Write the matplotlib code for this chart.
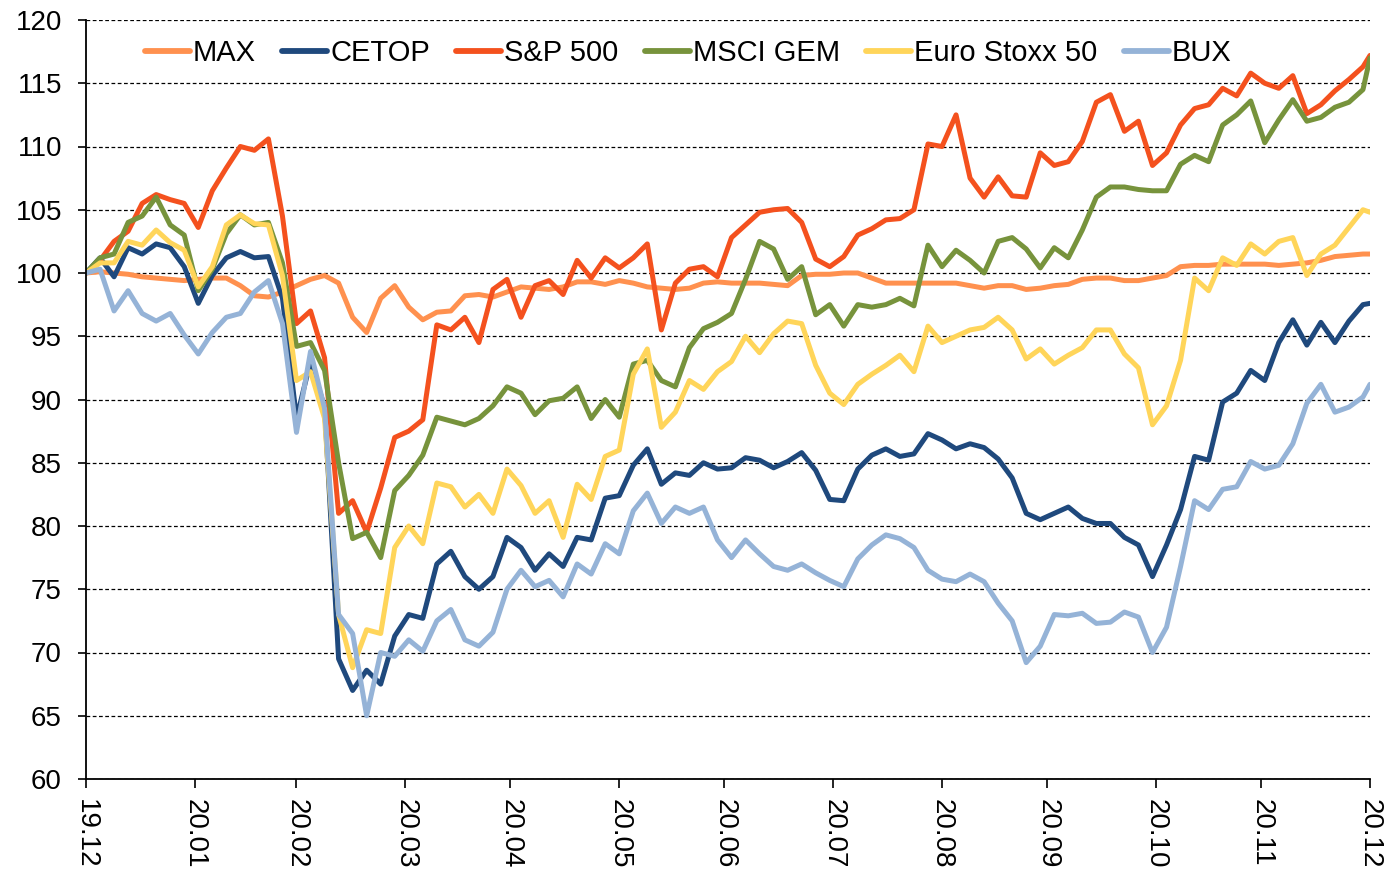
import numpy as np
import pandas as pd
import matplotlib
matplotlib.use('Agg')
import matplotlib.pyplot as plt
import matplotlib.dates as mdates
from matplotlib import font_manager

# ---------------- data ----------------
start = pd.Timestamp('2019-12-31')
day_offsets = list(range(0, 365, 4)) + [366]
dates = [start + pd.Timedelta(days=d) for d in day_offsets]

series_names = ['MAX', 'CETOP', 'S&P 500', 'MSCI GEM', 'Euro Stoxx 50', 'BUX']

max_vals = [100, 100.1, 100, 99.9, 99.7, 99.6, 99.5, 99.4, 99.5, 99.6,
            99.6, 99.0, 98.2, 98.1, 98.5, 99.0, 99.5, 99.8, 99.2, 96.5,
            95.3, 98.0, 99.0, 97.3, 96.3, 96.9, 97.0, 98.2, 98.3, 98.1,
            98.5, 98.9, 98.8, 98.7, 98.9, 99.3, 99.3, 99.1, 99.4, 99.2,
            98.9, 98.8, 98.7, 98.8, 99.2, 99.3, 99.2, 99.2, 99.2, 99.1,
            99.0, 99.8, 99.9, 99.9, 100, 100, 99.6, 99.2, 99.2, 99.2,
            99.2, 99.2, 99.2, 99.0, 98.8, 99.0, 99.0, 98.7, 98.8, 99.0,
            99.1, 99.5, 99.6, 99.6, 99.4, 99.4, 99.6, 99.8, 100.5, 100.6,
            100.6, 100.7, 100.7, 100.7, 100.7, 100.6, 100.7, 100.8, 101.0, 101.3,
            101.4, 101.5, 101.5]

cetop_vals = [100, 101.2, 99.7, 102.0, 101.5, 102.3, 102.0, 100.5, 97.6, 99.8,
              101.2, 101.7, 101.2, 101.3, 98.0, 88.5, 93.0, 89.4, 69.5, 67.0,
              68.6, 67.5, 71.3, 73.0, 72.7, 77.0, 78.0, 76.0, 75.0, 76.0,
              79.1, 78.3, 76.5, 77.8, 76.8, 79.1, 78.9, 82.2, 82.4, 84.8,
              86.1, 83.3, 84.2, 84.0, 85.0, 84.5, 84.6, 85.4, 85.2, 84.6,
              85.1, 85.8, 84.4, 82.1, 82.0, 84.5, 85.6, 86.1, 85.5, 85.7,
              87.3, 86.8, 86.1, 86.5, 86.2, 85.3, 83.8, 81.0, 80.5, 81.0,
              81.5, 80.6, 80.2, 80.2, 79.1, 78.5, 76.0, 78.5, 81.3, 85.5,
              85.2, 89.8, 90.5, 92.3, 91.5, 94.5, 96.3, 94.3, 96.1, 94.5,
              96.2, 97.5, 97.6]

sp500_vals = [100, 101.0, 102.5, 103.3, 105.5, 106.2, 105.8, 105.5, 103.6, 106.5,
              108.3, 110.0, 109.7, 110.6, 104.5, 96.0, 97.0, 93.3, 81.0, 82.0,
              79.5, 83.0, 87.0, 87.5, 88.4, 95.9, 95.5, 96.5, 94.5, 98.7,
              99.5, 96.5, 99.0, 99.4, 98.3, 101.0, 99.6, 101.2, 100.4, 101.2,
              102.3, 95.5, 99.2, 100.3, 100.5, 99.7, 102.8, 103.8, 104.8, 105.0,
              105.1, 104.0, 101.1, 100.5, 101.3, 103.0, 103.5, 104.2, 104.3, 105.0,
              110.2, 110.0, 112.5, 107.5, 106.0, 107.6, 106.1, 106.0, 109.5, 108.5,
              108.8, 110.4, 113.5, 114.1, 111.2, 112.0, 108.5, 109.5, 111.7, 113.0,
              113.3, 114.6, 114.0, 115.8, 115.0, 114.6, 115.6, 112.6, 113.3, 114.4,
              115.3, 116.3, 117.2]

msci_vals = [100, 101.2, 101.5, 104.0, 104.5, 106.0, 103.8, 103.0, 98.6, 100.3,
             103.1, 104.6, 103.8, 104.0, 100.8, 94.2, 94.5, 92.3, 85.0, 79.0,
             79.5, 77.5, 82.8, 84.0, 85.6, 88.6, 88.3, 88.0, 88.5, 89.5,
             91.0, 90.5, 88.8, 89.9, 90.1, 91.0, 88.5, 90.0, 88.6, 92.8,
             93.1, 91.5, 91.0, 94.1, 95.6, 96.1, 96.8, 99.5, 102.5, 101.9,
             99.5, 100.5, 96.7, 97.5, 95.8, 97.5, 97.3, 97.5, 98.0, 97.4,
             102.2, 100.5, 101.8, 101.0, 100.0, 102.5, 102.8, 101.9, 100.4, 102.0,
             101.2, 103.4, 106.0, 106.8, 106.8, 106.6, 106.5, 106.5, 108.6, 109.3,
             108.8, 111.7, 112.5, 113.6, 110.3, 112.1, 113.7, 112.0, 112.3, 113.1,
             113.5, 114.5, 117.0]

stoxx_vals = [100, 100.8, 100.8, 102.5, 102.2, 103.4, 102.4, 101.8, 98.9, 100.5,
              103.8, 104.6, 103.9, 103.8, 99.8, 91.5, 92.2, 88.5, 73.0, 68.8,
              71.8, 71.5, 78.3, 80.0, 78.6, 83.4, 83.1, 81.5, 82.5, 81.0,
              84.5, 83.2, 81.0, 82.0, 79.1, 83.3, 82.1, 85.5, 86.0, 92.0,
              94.0, 87.8, 89.0, 91.5, 90.8, 92.2, 93.0, 95.0, 93.7, 95.2,
              96.2, 96.0, 92.7, 90.5, 89.6, 91.2, 92.0, 92.7, 93.5, 92.2,
              95.8, 94.5, 95.0, 95.5, 95.7, 96.5, 95.5, 93.2, 94.0, 92.8,
              93.5, 94.1, 95.5, 95.5, 93.6, 92.5, 88.0, 89.5, 93.1, 99.6,
              98.6, 101.2, 100.6, 102.3, 101.5, 102.5, 102.8, 99.8, 101.5, 102.2,
              103.6, 105.0, 104.8]

bux_vals = [100, 100.3, 97.0, 98.6, 96.8, 96.2, 96.8, 95.1, 93.6, 95.3,
            96.5, 96.8, 98.5, 99.4, 96.0, 87.4, 93.8, 89.3, 73.0, 71.5,
            65.0, 70.0, 69.7, 71.0, 70.1, 72.5, 73.4, 71.0, 70.5, 71.6,
            75.0, 76.5, 75.2, 75.7, 74.4, 77.0, 76.2, 78.6, 77.8, 81.2,
            82.6, 80.2, 81.5, 81.0, 81.5, 78.9, 77.5, 78.9, 77.8, 76.8,
            76.5, 77.0, 76.3, 75.7, 75.2, 77.4, 78.5, 79.3, 79.0, 78.3,
            76.5, 75.8, 75.6, 76.2, 75.6, 73.9, 72.5, 69.2, 70.5, 73.0,
            72.9, 73.1, 72.3, 72.4, 73.2, 72.8, 70.0, 72.0, 76.8, 82.0,
            81.3, 82.9, 83.1, 85.1, 84.5, 84.8, 86.5, 89.7, 91.2, 89.0,
            89.4, 90.2, 91.2]

y_ticks = list(range(60, 121, 5))
month_ticks = [pd.Timestamp(2019, 12, 31)] + \
    [pd.Timestamp(2020, m, 1) + pd.offsets.MonthEnd(0) for m in range(1, 13)]

colors = ['#FF914F', '#1F497D', '#F4511E', '#77933C', '#FFD55A', '#95B3D7']

# ---------------- font ----------------
plt.rcParams['font.family'] = ['Liberation Sans', 'DejaVu Sans']
FS = 20
LFS = 21

# ---------------- plot ----------------
fig = plt.figure(figsize=(13.9, 8.73), dpi=100)
ax = fig.add_axes([86 / 1390, 1 - 779 / 873, (1370 - 86) / 1390, (779 - 20) / 873])

all_vals = [max_vals, cetop_vals, sp500_vals, msci_vals, stoxx_vals, bux_vals]
for name, vals, c in zip(series_names, all_vals, colors):
    ax.plot(dates, vals, color=c, lw=3.6, label=name,
            solid_joinstyle='round', solid_capstyle='round')

ax.set_ylim(60, 120)
ax.set_yticks(y_ticks)
ax.set_xlim(month_ticks[0], month_ticks[-1])
ax.set_xticks(month_ticks)
ax.xaxis.set_major_formatter(mdates.DateFormatter('%y.%m'))
for lbl in ax.get_xticklabels():
    lbl.set_rotation(270)
    lbl.set_ha('center')
    lbl.set_va('top')

ax.grid(axis='y', color='black', linestyle=(0, (3, 2)), lw=0.9)
ax.set_axisbelow(True)
for s in ['top', 'right']:
    ax.spines[s].set_visible(False)
for s in ['left', 'bottom']:
    ax.spines[s].set_linewidth(1.3)
    ax.spines[s].set_color('black')

ax.tick_params(axis='y', length=5.8, width=1.2, pad=11.5, labelsize=FS, direction='out')
ax.tick_params(axis='x', length=6.5, width=1.2, pad=8, labelsize=FS, direction='out')

leg = ax.legend(loc='center', bbox_to_anchor=(0.469, 0.9565), ncol=6, frameon=False,
                fontsize=LFS, handlelength=1.55, handletextpad=0.1, columnspacing=0.9,
                borderpad=0, borderaxespad=0)
for h in leg.get_lines():
    h.set_linewidth(4.2)
    h.set_solid_capstyle('round')

fig.savefig('out.png', dpi=100)
